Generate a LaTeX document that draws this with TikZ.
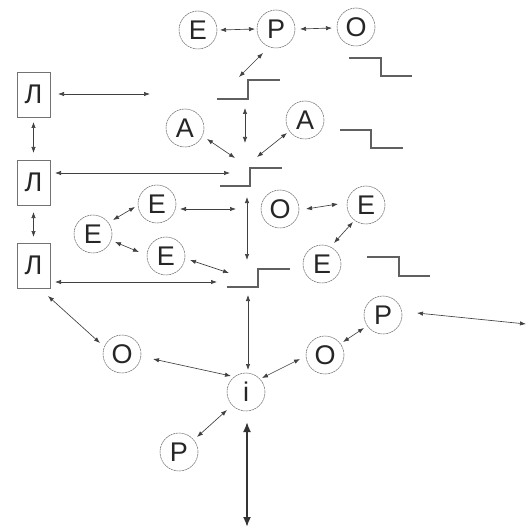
\documentclass[tikz,border=0pt]{standalone}
\usepackage{fontspec}
\setmainfont{Liberation Sans}
\usetikzlibrary{arrows.meta,calc}
\definecolor{txt}{HTML}{262626}
\definecolor{ln}{HTML}{404040}
\definecolor{stp}{HTML}{606060}
\begin{document}
\begin{tikzpicture}[x=1pt,y=-1pt,
  circ/.style={circle,draw=gray!90!black,line width=0.55pt,dash pattern=on 2.2pt off 0.6pt,minimum size=38pt,inner sep=0pt,text=txt,font=\fontsize{27}{27}\selectfont},
  lbox/.style={rectangle,draw=gray!90!black,line width=0.6pt,minimum width=33pt,minimum height=45pt,inner sep=0pt,text=txt,font=\fontsize{27}{27}\selectfont},
  conn/.style={draw=ln,line width=0.65pt,{Latex[length=6pt,width=4.4pt]}-{Latex[length=6pt,width=4.4pt]}},
  thickconn/.style={draw=ln!80!black,line width=1.8pt,{Latex[length=10pt,width=8pt]}-{Latex[length=10pt,width=8pt]}},
  stepline/.style={draw=stp,line width=1.4pt}]
\useasboundingbox (0,0) rectangle (528,529);
% nodes
\node[circ] (e1) at (198,30) {E};
\node[circ] (p1) at (276,29) {P};
\node[circ] (o1) at (356,27) {O};
\node[lbox] (l1) at (33.5,94.5) {Л};
\node[lbox] (l2) at (33.5,182.5) {Л};
\node[lbox] (l3) at (33.5,265.5) {Л};
\node[circ] (a1) at (185,128) {A};
\node[circ] (a2) at (305,120) {A};
\node[circ] (e3) at (93,234) {E};
\node[circ] (e4) at (157,204) {E};
\node[circ] (e5) at (166,256) {E};
\node[circ] (o2) at (280,209) {O};
\node[circ] (e6) at (366,205) {E};
\node[circ] (e7) at (322,264) {E};
\node[circ] (p2) at (383,315) {P};
\node[circ] (o3) at (122,354) {O};
\node[circ] (o4) at (325,355) {O};
\node[circ] (i) at (246,392) {i};
\node[circ] (p3) at (179,452) {P};
% step shapes
\draw[stepline] (217,99) -- (248,99) -- (248,80) -- (280,80);
\draw[stepline] (349,58) -- (381,58) -- (381,76) -- (412,76);
\draw[stepline] (220,186) -- (250,186) -- (250,168) -- (282,168);
\draw[stepline] (340,130) -- (371,130) -- (371,148) -- (403,148);
\draw[stepline] (227,287) -- (258,287) -- (258,269) -- (290,269);
\draw[stepline] (367,257) -- (399,257) -- (399,276) -- (430,276);
% free ends
\coordinate (f1) at (239,77);
\coordinate (f2) at (150,94);
\coordinate (f3) at (230,173);
\coordinate (f4) at (217,282);
\coordinate (f5) at (235,158);
\coordinate (f6) at (257,157);
\coordinate (f7t) at (245,108);
\coordinate (f7b) at (245,143);
\coordinate (f8) at (236,209);
\coordinate (f9t) at (247,197);
\coordinate (f9b) at (247,260);
\coordinate (f10) at (229,273);
\coordinate (f11) at (248,295);
\coordinate (f12) at (526,324);
\coordinate (f13) at (247,527);
% connectors
\draw[conn] ($(e1)+(22,0)$) -- ($(p1)+(-21,0)$);
\draw[conn] ($(p1)+(24,0)$) -- ($(o1)+(-24,1)$);
\draw[conn] ($(p1)+(-13,24)$) -- (f1);
\draw[conn] ($(l1)+(24.5,-0.5)$) -- (f2);
\draw[conn] ($(l1)+(0,27.5)$) -- ($(l2)+(0,-29.5)$);
\draw[conn] ($(l2)+(21.5,-9.5)$) -- (f3);
\draw[conn] ($(l2)+(0,29.5)$) -- ($(l3)+(0,-28.5)$);
\draw[conn] ($(l3)+(21.5,16.5)$) -- (f4);
\draw[conn] ($(l3)+(14.5,30.5)$) -- ($(o3)+(-22,-11)$);
\draw[conn] ($(a1)+(22,11)$) -- (f5);
\draw[conn] ($(a2)+(-18,13)$) -- (f6);
\draw[conn] (f7t) -- (f7b);
\draw[conn] ($(e3)+(20,-14)$) -- ($(e4)+(-22,3)$);
\draw[conn] ($(e3)+(22,8)$) -- ($(e5)+(-27,-4)$);
\draw[conn] ($(e4)+(23,5)$) -- (f8);
\draw[conn] (f9t) -- (f9b);
\draw[conn] ($(e5)+(24,4)$) -- (f10);
\draw[conn] ($(o2)+(26,0)$) -- ($(e6)+(-28,-1)$);
\draw[conn] ($(e7)+(12,-21)$) -- ($(e6)+(-13,17)$);
\draw[conn] (f11) -- ($(i)+(2,-22)$);
\draw[conn] ($(p2)+(34,-2)$) -- (f12);
\draw[conn] ($(o4)+(18,-13)$) -- ($(p2)+(-19,13)$);
\draw[conn] ($(o3)+(31,5)$) -- ($(i)+(-15,-16)$);
\draw[conn] ($(o4)+(-25,4)$) -- ($(i)+(16,-14)$);
\draw[conn] ($(i)+(-19,18)$) -- ($(p3)+(18,-15)$);
\draw[thickconn] ($(i)+(1,30)$) -- (f13);
\end{tikzpicture}
\end{document}
